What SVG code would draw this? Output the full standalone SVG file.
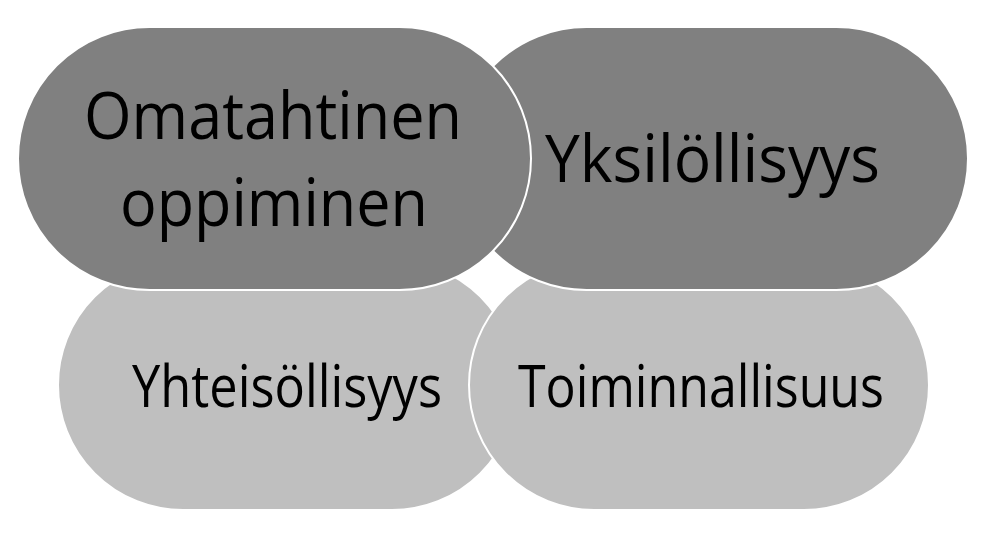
<svg xmlns="http://www.w3.org/2000/svg" width="988" height="538" viewBox="0 0 988 538">
<style>
.dark{fill:#808080;stroke:#ffffff;stroke-width:2}
.light{fill:#bfbfbf;stroke:#ffffff;stroke-width:2}
.lbl{font-family:"Open Sans",Lato,"Liberation Sans",sans-serif;fill:#000000;text-anchor:middle;font-variant-ligatures:none;font-feature-settings:"liga" 0}
.big{font-size:65px}
.small{font-size:59px}
</style>
<rect width="988" height="538" fill="#ffffff"/>
<g id="connectors"></g>
<g id="node-yhteisollisyys">
<rect class="light" x="58" y="260" width="459" height="250" rx="125" ry="125"/>
<text class="lbl small" x="287" y="407" textLength="310" lengthAdjust="spacingAndGlyphs">Yhteisöllisyys</text>
</g>
<g id="node-toiminnallisuus">
<rect class="light" x="469" y="260" width="460" height="250" rx="125" ry="125"/>
<text class="lbl small" x="701" y="407" textLength="366" lengthAdjust="spacingAndGlyphs">Toiminnallisuus</text>
</g>
<g id="node-yksilollisyys">
<rect class="dark" x="455" y="27" width="513" height="263" rx="131.5" ry="131.5"/>
<text class="lbl big" x="712.5" y="182" textLength="335" lengthAdjust="spacingAndGlyphs">Yksilöllisyys</text>
</g>
<g id="node-omatahtinen">
<rect class="dark" x="18" y="27" width="513" height="263" rx="131.5" ry="131.5"/>
<text class="lbl big" x="273" y="139" textLength="378" lengthAdjust="spacingAndGlyphs">Omatahtinen</text>
<text class="lbl big" x="274" y="226" textLength="308" lengthAdjust="spacingAndGlyphs">oppiminen</text>
</g>
</svg>
